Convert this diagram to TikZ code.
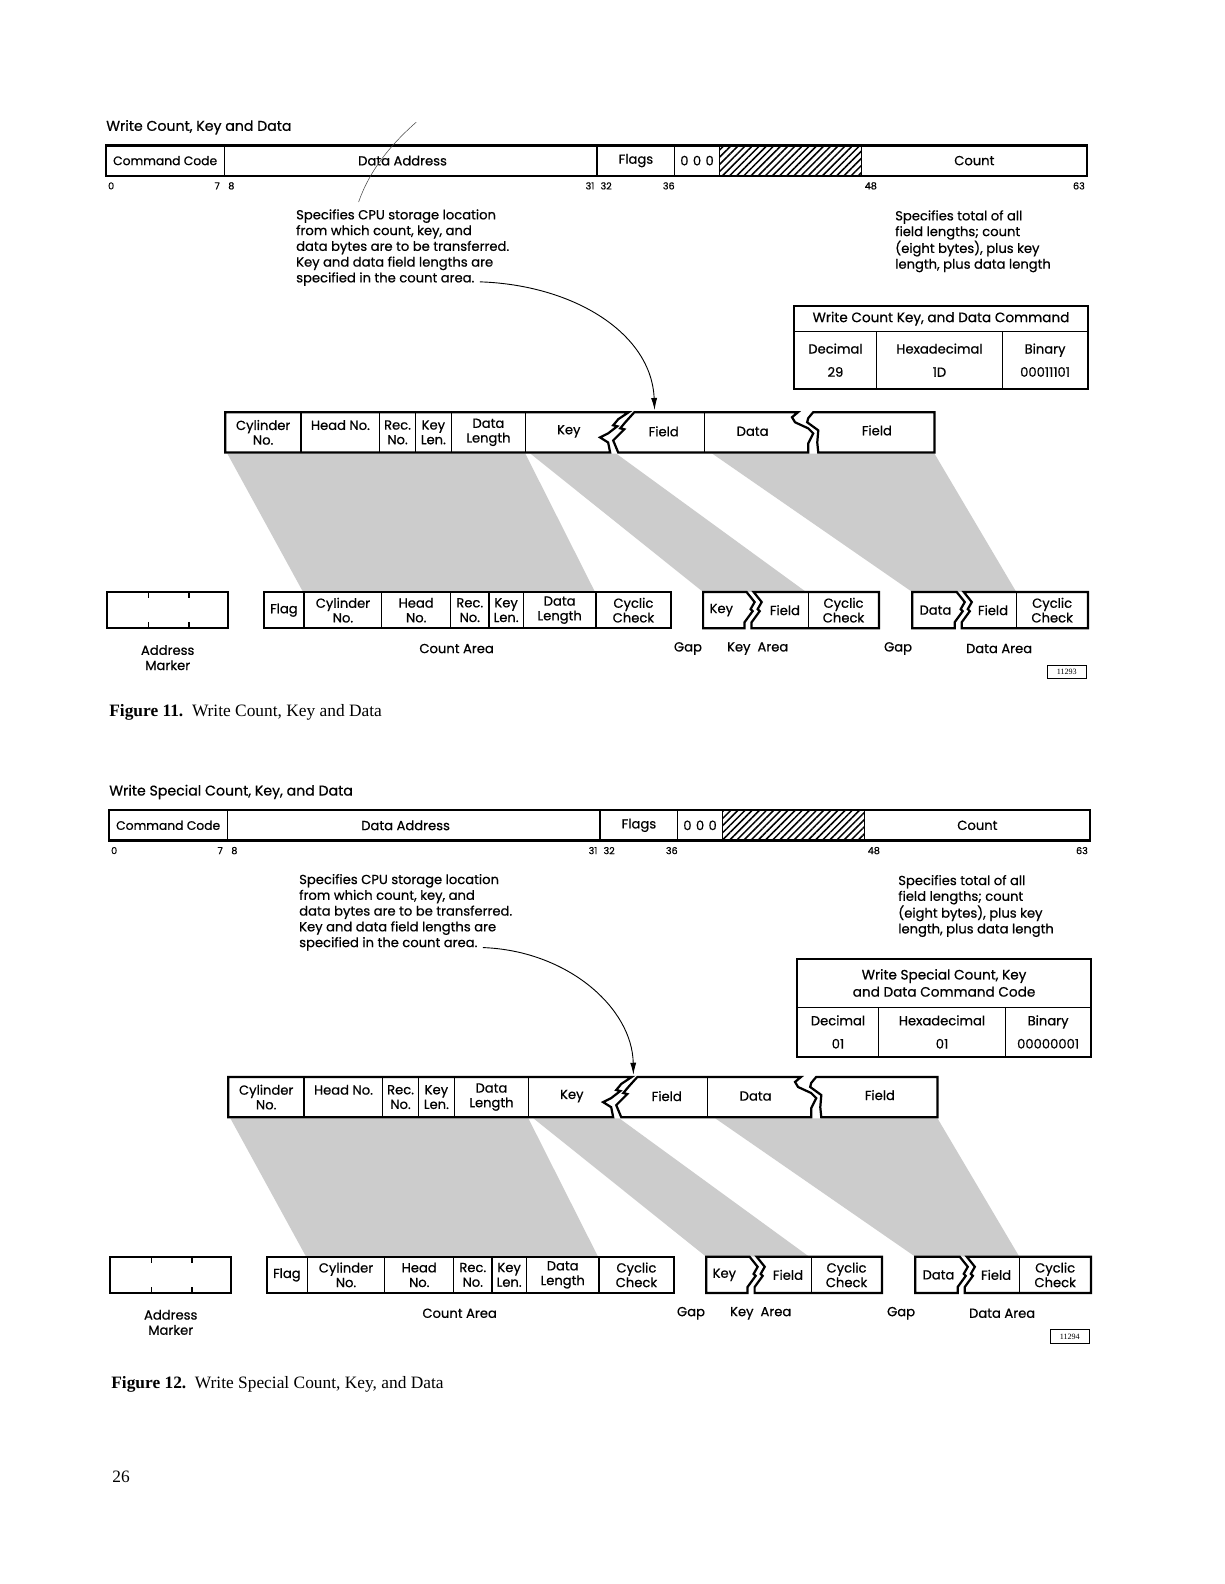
\documentclass[tikz,border=0pt]{standalone}
\usepackage{fontspec}
\setmainfont{Poppins}[FakeBold=0.6]
\newfontfamily\capfont{Liberation Serif}
\usetikzlibrary{arrows.meta,patterns.meta}

\tikzset{
  lbl/.style={font=\fontsize{13}{15}\selectfont, inner sep=0pt, align=center},
  small/.style={font=\fontsize{9.5}{10}\selectfont, inner sep=0pt},
  cell/.style={draw, line width=1.2pt, inner sep=0pt, align=center,
               font=\fontsize{13}{14.5}\selectfont},
  outline/.style={line width=2.2pt, line join=miter},
  shadearea/.style={fill=black!20},
  ptr/.style={line width=0.9pt, -{Latex[length=12pt,width=6pt]}},
  spec/.style={anchor=north west, align=left, inner sep=0pt,
               font=\fontsize{13}{15.6}\selectfont},
  capt/.style={anchor=west, inner sep=0pt, font=\capfont\fontsize{17.2}{17.2}\selectfont},
}

\newcommand\recfig[3]{%
  % title
  \node[lbl, anchor=west, font=\fontsize{14}{15}\selectfont] (#1title) at (105,126) {#2};
  % command word
  \node[cell, minimum width=117, minimum height=30, font=\fontsize{12.2}{13}\selectfont] (#1cc) at (163.5,159) {Command Code};
  \node[cell, minimum width=369, minimum height=30] (#1da) at (406.5,159) {Data Address\hspace*{16pt}};
  \node[cell, minimum width=77, minimum height=30] (#1fl) at (629.5,159) {Flags};
  \node[cell, minimum width=44, minimum height=30] (#1zero) at (690,159) {0\,\,0\,\,0};
  \node[cell, minimum width=141, minimum height=30,
        pattern={Lines[angle=45,distance=5pt,line width=1.5pt]}] (#1res) at (782.5,159) {};
  \node[cell, minimum width=223, minimum height=30] (#1ct) at (964.5,159) {Count};
  \draw[outline] (105,144) rectangle (1076,174);
  \foreach \xx/\lab in {110/0,215/7,229/8,584/31,600/32,662/36,862/48,1068/63}
    \node[small, name=#1bit\lab] at (\xx,184) {\lab};
  % explanatory texts
  \node[spec] (#1spec) at (293,207) {Specifies CPU storage location\\from which count, key, and\\data bytes are to be transferred.\\Key and data field lengths are\\specified in the count area.};
  \node[spec] (#1tot) at (886,208) {Specifies total of all\\field lengths; count\\(eight bytes), plus key\\length, plus data length};
  % shaded mapping areas
  \fill[shadearea] (225,449) -- (520,449) -- (589,586) -- (300,586) -- cycle;
  \fill[shadearea] (525,449) -- (610,449) -- (798,586) -- (696,586) -- cycle;
  \fill[shadearea] (705,449) -- (925,449) -- (1006,586) -- (903,586) -- cycle;
  % record as written (top row)
  \node[cell, minimum width=75, minimum height=40] (#1cyl) at (260.5,428) {Cylinder\\No.};
  \node[cell, minimum width=78, minimum height=40] (#1head) at (337,428) {Head No.\\\mbox{}};
  \node[cell, minimum width=35, minimum height=40] (#1rec) at (393.5,428) {Rec.\\No.};
  \node[cell, minimum width=36, minimum height=40] (#1kl) at (429,428) {Key\\Len.};
  \node[cell, minimum width=73, minimum height=40] (#1dl) at (483.5,428) {Data\\Length};
  \draw[line width=1.2pt] (697,408) -- (697,448);
  \draw[outline] (223,408) -- (622.5,408) -- (612,415) -- (607,421) -- (611,422)
     -- (602,429) -- (594,433) -- (602,438) -- (604,448) -- (223,448) -- cycle;
  \draw[outline] (612,448) -- (607,436) -- (618,425) -- (614,424) -- (619,418)
     -- (628,408) -- (790,408) -- (784,413) -- (787,418) -- (800,424) -- (805,429)
     -- (800,439) -- (800,448) -- cycle;
  \draw[outline] (810,448) -- (809,438) -- (810,426) -- (799,418) -- (800,414)
     -- (805,408) -- (925,408) -- (925,448) -- cycle;
  \node[lbl] (#1key) at (563,427) {Key};
  \node[lbl] (#1fieldA) at (657,427) {Field};
  \node[lbl] (#1data) at (745,427) {Data};
  \node[lbl] (#1fieldB) at (868,426) {Field};
  % track format (bottom row)
  \node[cell, minimum width=120, minimum height=36] (#1am) at (166,604) {};
  \draw[outline] (106,586) rectangle (226,622);
  \draw[line width=1.2pt] (147,586) -- (147,592) (187,586) -- (187,592)
                          (147,616) -- (147,622) (187,616) -- (187,622);
  \node[cell, minimum width=40, minimum height=36] (#1bflag) at (281,604) {Flag};
  \node[cell, minimum width=77, minimum height=36] (#1bcyl) at (339.5,604) {Cylinder\\No.};
  \node[cell, minimum width=68, minimum height=36] (#1bhead) at (412,604) {Head\\No.};
  \node[cell, minimum width=38, minimum height=36] (#1brec) at (465,604) {Rec.\\No.};
  \node[cell, minimum width=34, minimum height=36] (#1bkl) at (501,604) {Key\\Len.};
  \node[cell, minimum width=72, minimum height=36] (#1bdl) at (554,604) {Data\\Length};
  \node[cell, minimum width=74, minimum height=36] (#1bcc) at (627,604) {Cyclic\\Check};
  \draw[outline] (261,586) rectangle (664,622);
  % key area
  \node[cell, minimum width=70, minimum height=36] (#1kcc) at (835,604) {Cyclic\\Check};
  \draw[outline] (696,586) -- (739,586) -- (747,596) -- (743,603) -- (745,605)
     -- (737,616) -- (737,622) -- (696,622) -- cycle;
  \draw[outline] (746,586) -- (870,586) -- (870,622) -- (744,622) -- (744,616)
     -- (752,605) -- (750,603) -- (754,596) -- cycle;
  \node[lbl] (#1bkey) at (714,604) {Key};
  \node[lbl] (#1bkfield) at (777,604) {Field};
  % data area
  \node[cell, minimum width=71, minimum height=36] (#1dcc) at (1041.5,604) {Cyclic\\Check};
  \draw[outline] (903,586) -- (947,586) -- (955,596) -- (951,603) -- (953,605)
     -- (945,616) -- (945,622) -- (903,622) -- cycle;
  \draw[outline] (954,586) -- (1077,586) -- (1077,622) -- (952,622) -- (952,616)
     -- (960,605) -- (958,603) -- (962,596) -- cycle;
  \node[lbl] (#1bdata) at (926,604) {Data};
  \node[lbl] (#1bdfield) at (983,604) {Field};
  % area labels
  \node[lbl] (#1lam) at (166,651) {Address\\Marker};
  \node[lbl] (#1lcount) at (452,642) {Count Area};
  \node[lbl] (#1lgap1) at (681,642) {Gap};
  \node[lbl] (#1lkey) at (750,642) {Key~~Area};
  \node[lbl] (#1lgap2) at (889,642) {Gap};
  \node[lbl] (#1ldata) at (989,642) {Data Area};
  \node[draw, line width=0.9pt, minimum width=38, minimum height=13, inner sep=0pt,
        font=\capfont\fontsize{8}{8}\selectfont] (#1id) at (1056,665) {#3};
}

\begin{document}
\begin{tikzpicture}[x=1pt,y=-1pt]
\useasboundingbox[fill=white] (0,0) rectangle (1212,1568);

% ---------- Figure 11 ----------
\recfig{a}{Write Count, Key and Data}{11293}
\draw[line width=0.5pt, black!75] (412,121) .. controls (388,142) and (366,168) .. (355,200);
\node[cell, minimum width=291, minimum height=25, font=\fontsize{13.5}{14}\selectfont] (atabt) at (931.5,315.5) {Write Count Key, and Data Command};
\node[cell, minimum width=82, minimum height=57, font=\fontsize{13}{23}\selectfont] (atabd) at (827,356.5) {Decimal\\29};
\node[cell, minimum width=124, minimum height=57, font=\fontsize{13}{23}\selectfont] (atabh) at (930,356.5) {Hexadecimal\\1D};
\node[cell, minimum width=85, minimum height=57, font=\fontsize{13}{23}\selectfont] (atabb) at (1034.5,356.5) {Binary\\00011101};
\draw[outline] (786,303) rectangle (1077,385);
\coordinate (aarrs) at (475,279);
\coordinate (aarre) at (648,406);
\draw[ptr] (aarrs) .. controls (568,282) and (645,330) .. (aarre);
\node[capt] (acap) at (108,705) {\textbf{Figure 11.}\enspace Write Count, Key and Data};

% ---------- Figure 12 ----------
\begin{scope}[shift={(3,658)}]
\recfig{b}{Write Special Count, Key, and Data}{11294}
\end{scope}
\node[cell, minimum width=291, minimum height=48, font=\fontsize{13.5}{17}\selectfont] (btabt) at (934.5,973) {Write Special Count, Key\\and Data Command Code};
\node[cell, minimum width=81, minimum height=49, font=\fontsize{13}{23}\selectfont] (btabd) at (829.5,1021.5) {Decimal\\01};
\node[cell, minimum width=125, minimum height=49, font=\fontsize{13}{23}\selectfont] (btabh) at (932.5,1021.5) {Hexadecimal\\01};
\node[cell, minimum width=85, minimum height=49, font=\fontsize{13}{23}\selectfont] (btabb) at (1037.5,1021.5) {Binary\\00000001};
\draw[outline] (789,949) rectangle (1080,1046);
\coordinate (barrs) at (478,938);
\coordinate (barre) at (627,1064);
\draw[ptr] (barrs) .. controls (562,941) and (626,998) .. (barre);
\node[capt] (bcap) at (110,1370) {\textbf{Figure 12.}\enspace Write Special Count, Key, and Data};

\node[capt] (pagenum) at (111,1462) {26};
\end{tikzpicture}
\end{document}
